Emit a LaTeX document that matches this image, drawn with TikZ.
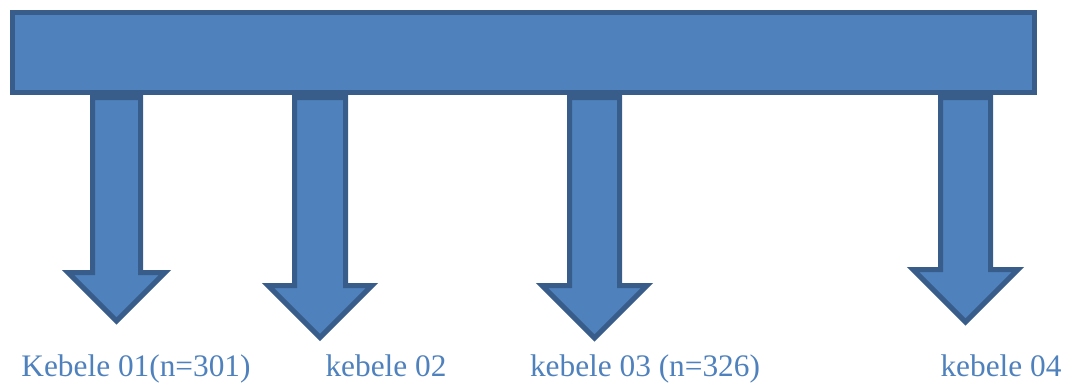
\documentclass[tikz,border=0pt]{standalone}
\usepackage{fontspec}
\setmainfont{Liberation Serif}
\usetikzlibrary{positioning}
\definecolor{boxfill}{RGB}{79,129,189}
\definecolor{boxline}{RGB}{56,93,138}
\tikzset{
  bar/.style={rectangle, minimum width=766.5pt, minimum height=60pt, inner sep=0pt, draw=boxline, fill=boxfill, line width=3.75pt},
  kebarrow/.style={draw=boxline, fill=boxfill, line width=3.75pt, line join=miter},
  lbl/.style={anchor=base, inner sep=0pt, text=boxfill, font=\fontsize{23.5pt}{26pt}\selectfont}
}
\begin{document}
\begin{tikzpicture}[x=0.75pt, y=-0.75pt]
	\useasboundingbox (0,0) rectangle (1066,383);
	\node[bar] (bar) at (523.5,52.5) {};

	\draw[kebarrow] (92.5,97.5) -- (140.5,97.5) -- (140.5,272.5) -- (165,272.5) -- (116.5,321) -- (68,272.5) -- (92.5,272.5) -- cycle;
	\draw[kebarrow] (294.5,97.5) -- (345.5,97.5) -- (345.5,285.5) -- (372,285.5) -- (320,337.5) -- (268,285.5) -- (294.5,285.5) -- cycle;
	\draw[kebarrow] (569.5,97.5) -- (619.5,97.5) -- (619.5,285.5) -- (647,285.5) -- (594.5,338) -- (542,285.5) -- (569.5,285.5) -- cycle;
	\draw[kebarrow] (940.5,97.5) -- (990.5,97.5) -- (990.5,269.5) -- (1018,269.5) -- (965.5,322) -- (913,269.5) -- (940.5,269.5) -- cycle;

	\node[lbl] (k1) at (136,376) {Kebele 01(n=301)};
	\node[lbl] (k2) at (386,376) {kebele 02};
	\node[lbl] (k3) at (645,376) {kebele 03 (n=326)};
	\node[lbl] (k4) at (1001,376) {kebele 04};
\end{tikzpicture}
\end{document}
